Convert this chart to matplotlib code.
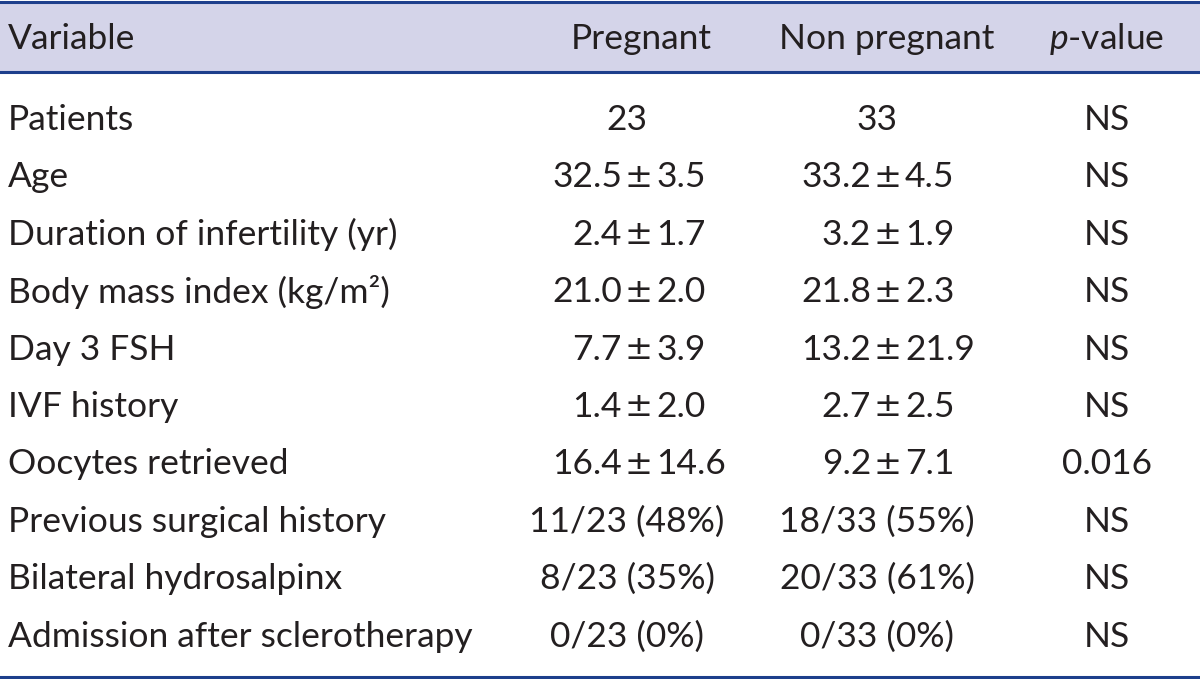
import matplotlib.pyplot as plt
from matplotlib.patches import Rectangle

plt.rcParams['font.family'] = ['Lato', 'DejaVu Sans']
plt.rcParams['mathtext.fontset'] = 'custom'
plt.rcParams['mathtext.it'] = 'Lato:italic'
plt.rcParams['mathtext.rm'] = 'Lato'

headers = ['Variable', 'Pregnant', 'Non pregnant', '$\\mathit{p}$-value']
variables = ['Patients', 'Age', 'Duration of infertility (yr)',
             'Body mass index (kg/m²)', 'Day 3 FSH', 'IVF history',
             'Oocytes retrieved', 'Previous surgical history',
             'Bilateral hydrosalpinx', 'Admission after sclerotherapy']
pregnant = ['23', '32.5 ± 3.5', '2.4 ± 1.7', '21.0 ± 2.0', '7.7 ± 3.9',
            '1.4 ± 2.0', '16.4 ± 14.6', '11/23 (48%)', '8/23 (35%)', '0/23 (0%)']
non_pregnant = ['33', '33.2 ± 4.5', '3.2 ± 1.9', '21.8 ± 2.3', '13.2 ± 21.9',
                '2.7 ± 2.5', '9.2 ± 7.1', '18/33 (55%)', '20/33 (61%)', '0/33 (0%)']
p_values = ['NS', 'NS', 'NS', 'NS', 'NS', 'NS', '0.016', 'NS', 'NS', 'NS']

W, H = 1200, 679
fig = plt.figure(figsize=(12, 6.79), dpi=100)
ax = fig.add_axes([0, 0, 1, 1])
ax.set_xlim(0, W)
ax.set_ylim(H, 0)
ax.axis('off')

line_c = '#1d3f8c'
txt_c = '#231f20'
fs = 25.5

# header band and rules
ax.add_patch(Rectangle((0, 2), W, 70, facecolor='#d4d4e9', edgecolor='none'))
ax.plot([0, W], [2, 2], color=line_c, lw=2.2)
ax.plot([0, W], [72, 72], color=line_c, lw=2.2)
ax.plot([0, W], [677, 677], color=line_c, lw=2.2)

col_x = [8, 641, 887, 1107]
ax.text(col_x[0], 39, headers[0], fontsize=fs, color=txt_c, ha='left', va='center')
for x, h in zip(col_x[1:], headers[1:]):
    ax.text(x, 39, h, fontsize=fs, color=txt_c, ha='center', va='center')

pm_x = [639, 888]


def put_value(x_center, pm, s, y):
    if '±' in s:
        left, right = [p.strip() for p in s.split('±')]
        ax.text(pm - 17, y, left, fontsize=fs, color=txt_c, ha='right', va='center')
        ax.text(pm, y, '±', fontsize=fs * 0.95, color=txt_c, ha='center', va='center',
                family='DejaVu Sans')
        ax.text(pm + 17, y, right, fontsize=fs, color=txt_c, ha='left', va='center')
    else:
        ax.text(x_center, y, s, fontsize=fs, color=txt_c, ha='center', va='center')


y0, dy = 120, 57.4
for i, var in enumerate(variables):
    y = y0 + i * dy
    ax.text(col_x[0], y, var, fontsize=fs, color=txt_c, ha='left', va='center')
    put_value(627, pm_x[0], pregnant[i], y)
    put_value(877, pm_x[1], non_pregnant[i], y)
    ax.text(col_x[3], y, p_values[i], fontsize=fs, color=txt_c, ha='center', va='center')

fig.savefig('out.png', dpi=100)
